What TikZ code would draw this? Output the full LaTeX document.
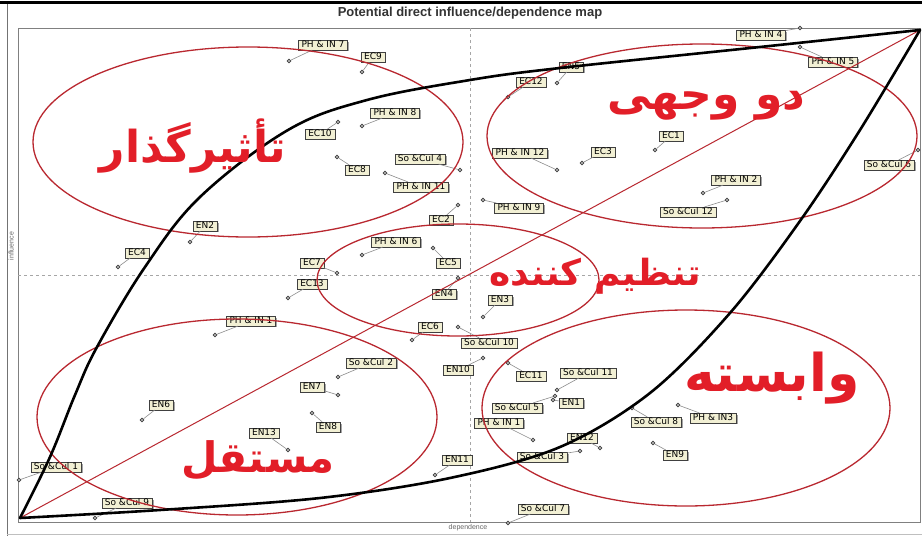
\documentclass[tikz,border=0pt]{standalone}
\usepackage{fontspec}
\setmainfont{Liberation Sans}
\newfontfamily\etikett{DejaVu Sans}
\newfontfamily\arabicfont[Script=Arabic]{DejaVu Sans}
\TeXXeTstate=1
\usetikzlibrary{shadows}
\definecolor{zonenrot}{RGB}{185,40,48}
\definecolor{textrot}{RGB}{226,30,40}
\definecolor{kasten}{RGB}{242,240,212}
\tikzset{merkmal/.style={draw=black!75, fill=kasten, thin, font=\etikett\fontsize{9}{10}\selectfont,
		inner xsep=3pt, inner ysep=1pt, text height=6.5pt, text depth=1.2pt,
		drop shadow={shadow xshift=1.5pt, shadow yshift=-1.5pt, fill=black!70}},
	punkt/.style={circle, draw=black!75, fill=white, line width=0.8pt, inner sep=0, minimum size=3.4pt},
	zeiger/.style={draw=black!45, line width=0.6pt},
	zone/.style={draw=zonenrot, line width=1.3pt},
	kurve/.style={draw=black, line width=2.6pt, line join=round, line cap=round},
	gruppe/.style={text=textrot, font=\arabicfont\bfseries\fontsize{#1}{#1}\selectfont, inner sep=0},
	achse/.style={text=black!60, font=\fontsize{7}{8}\selectfont, inner sep=1pt} }

\begin{document}
\begin{tikzpicture}[x=1pt, y=-1pt]
	\useasboundingbox (0,0) rectangle (922,536);
	\fill [white] (0,0) rectangle (922,536);

	% rahmen und achsen
	\draw [line width=3pt] (0,2) -- (922,2);
	\draw [black!55, thin] (7,4) -- (7,536);
	\draw [black!25, thin] (7,534) -- (922,534);
	\draw [black!50, line width=0.8pt] (18,28) rectangle (920,522);
	\draw [black!35, dashed, thin] (470,28) -- (470,522);
	\draw [black!35, dashed, thin] (18,275) -- (920,275);
	\node (titel) [text=black!80, font=\bfseries\fontsize{13}{14}\selectfont] at (470,13) {Potential direct influence/dependence map};
	\node (abh) [achse] at (468,528) {dependence};
	\node (einfl) [achse, rotate=90] at (11,246) {influence};

	% PH & IN
	\node (ph1a) [merkmal] at (251,321) {PH \& IN 1}; \node (ph1ap) [punkt] at (215,335) {}; \draw [zeiger] (ph1ap) -- (ph1a);
	\node (ph1b) [merkmal] at (499,423) {PH \& IN 1}; \node (ph1bp) [punkt] at (533,440) {}; \draw [zeiger] (ph1bp) -- (ph1b);
	\node (ph2) [merkmal] at (736,180) {PH \& IN 2}; \node (ph2p) [punkt] at (703,193) {}; \draw [zeiger] (ph2p) -- (ph2);
	\node (ph3) [merkmal] at (713,418) {PH \& IN3}; \node (ph3p) [punkt] at (678,405) {}; \draw [zeiger] (ph3p) -- (ph3);
	\node (ph4) [merkmal] at (761,35) {PH \& IN 4}; \node (ph4p) [punkt] at (800,28) {}; \draw [zeiger] (ph4p) -- (ph4);
	\node (ph5) [merkmal] at (833,62) {PH \& IN 5}; \node (ph5p) [punkt] at (800,47) {}; \draw [zeiger] (ph5p) -- (ph5);
	\node (ph6) [merkmal] at (396,242) {PH \& IN 6}; \node (ph6p) [punkt] at (362,255) {}; \draw [zeiger] (ph6p) -- (ph6);
	\node (ph7) [merkmal] at (323,45) {PH \& IN 7}; \node (ph7p) [punkt] at (289,61) {}; \draw [zeiger] (ph7p) -- (ph7);
	\node (ph8) [merkmal] at (395,113) {PH \& IN 8}; \node (ph8p) [punkt] at (362,126) {}; \draw [zeiger] (ph8p) -- (ph8);
	\node (ph9) [merkmal] at (519,208) {PH \& IN 9}; \node (ph9p) [punkt] at (483,200) {}; \draw [zeiger] (ph9p) -- (ph9);
	\node (ph11) [merkmal] at (421,187) {PH \& IN 11}; \node (ph11p) [punkt] at (385,173) {}; \draw [zeiger] (ph11p) -- (ph11);
	\node (ph12) [merkmal] at (520,153) {PH \& IN 12}; \node (ph12p) [punkt] at (557,170) {}; \draw [zeiger] (ph12p) -- (ph12);

	% EC
	\node (ec1) [merkmal] at (671,136) {EC1}; \node (ec1p) [punkt] at (655,150) {}; \draw [zeiger] (ec1p) -- (ec1);
	\node (ec2) [merkmal] at (441,220) {EC2}; \node (ec2p) [punkt] at (458,205) {}; \draw [zeiger] (ec2p) -- (ec2);
	\node (ec3) [merkmal] at (603,152) {EC3}; \node (ec3p) [punkt] at (582,163) {}; \draw [zeiger] (ec3p) -- (ec3);
	\node (ec4) [merkmal] at (137,253) {EC4}; \node (ec4p) [punkt] at (118,267) {}; \draw [zeiger] (ec4p) -- (ec4);
	\node (ec5) [merkmal] at (448,263) {EC5}; \node (ec5p) [punkt] at (433,248) {}; \draw [zeiger] (ec5p) -- (ec5);
	\node (ec6) [merkmal] at (430,327) {EC6}; \node (ec6p) [punkt] at (412,340) {}; \draw [zeiger] (ec6p) -- (ec6);
	\node (ec7) [merkmal] at (312,263) {EC7}; \node (ec7p) [punkt] at (337,273) {}; \draw [zeiger] (ec7p) -- (ec7);
	\node (ec8) [merkmal] at (357,170) {EC8}; \node (ec8p) [punkt] at (337,157) {}; \draw [zeiger] (ec8p) -- (ec8);
	\node (ec9) [merkmal] at (373,57) {EC9}; \node (ec9p) [punkt] at (362,72) {}; \draw [zeiger] (ec9p) -- (ec9);
	\node (ec10) [merkmal] at (320,134) {EC10}; \node (ec10p) [punkt] at (338,122) {}; \draw [zeiger] (ec10p) -- (ec10);
	\node (ec11) [merkmal] at (531,376) {EC11}; \node (ec11p) [punkt] at (508,363) {}; \draw [zeiger] (ec11p) -- (ec11);
	\node (ec12) [merkmal] at (531,82) {EC12}; \node (ec12p) [punkt] at (508,97) {}; \draw [zeiger] (ec12p) -- (ec12);
	\node (ec13) [merkmal] at (312,284) {EC13}; \node (ec13p) [punkt] at (288,298) {}; \draw [zeiger] (ec13p) -- (ec13);

	% EN
	\node (en1) [merkmal] at (571,403) {EN1}; \node (en1p) [punkt] at (553,400) {}; \draw [zeiger] (en1p) -- (en1);
	\node (en2) [merkmal] at (205,226) {EN2}; \node (en2p) [punkt] at (190,242) {}; \draw [zeiger] (en2p) -- (en2);
	\node (en3) [merkmal] at (500,300) {EN3}; \node (en3p) [punkt] at (483,317) {}; \draw [zeiger] (en3p) -- (en3);
	\node (en4) [merkmal] at (444,294) {EN4}; \node (en4p) [punkt] at (458,278) {}; \draw [zeiger] (en4p) -- (en4);
	\node (en5) [merkmal] at (571,67) {EN5}; \node (en5p) [punkt] at (557,83) {}; \draw [zeiger] (en5p) -- (en5);
	\node (en6) [merkmal] at (161,405) {EN6}; \node (en6p) [punkt] at (142,420) {}; \draw [zeiger] (en6p) -- (en6);
	\node (en7) [merkmal] at (312,387) {EN7}; \node (en7p) [punkt] at (338,395) {}; \draw [zeiger] (en7p) -- (en7);
	\node (en8) [merkmal] at (328,427) {EN8}; \node (en8p) [punkt] at (312,413) {}; \draw [zeiger] (en8p) -- (en8);
	\node (en9) [merkmal] at (675,455) {EN9}; \node (en9p) [punkt] at (653,443) {}; \draw [zeiger] (en9p) -- (en9);
	\node (en10) [merkmal] at (458,370) {EN10}; \node (en10p) [punkt] at (483,358) {}; \draw [zeiger] (en10p) -- (en10);
	\node (en11) [merkmal] at (457,460) {EN11}; \node (en11p) [punkt] at (435,475) {}; \draw [zeiger] (en11p) -- (en11);
	\node (en12) [merkmal] at (582,438) {EN12}; \node (en12p) [punkt] at (600,448) {}; \draw [zeiger] (en12p) -- (en12);
	\node (en13) [merkmal] at (264,433) {EN13}; \node (en13p) [punkt] at (288,450) {}; \draw [zeiger] (en13p) -- (en13);

	% So & Cul
	\node (sc1) [merkmal] at (56,467) {So \&Cul 1}; \node (sc1p) [punkt] at (19,480) {}; \draw [zeiger] (sc1p) -- (sc1);
	\node (sc2) [merkmal] at (371,363) {So \&Cul 2}; \node (sc2p) [punkt] at (338,377) {}; \draw [zeiger] (sc2p) -- (sc2);
	\node (sc3) [merkmal] at (542,457) {So \&Cul 3}; \node (sc3p) [punkt] at (580,451) {}; \draw [zeiger] (sc3p) -- (sc3);
	\node (sc4) [merkmal] at (420,159) {So \&Cul 4}; \node (sc4p) [punkt] at (460,170) {}; \draw [zeiger] (sc4p) -- (sc4);
	\node (sc5) [merkmal] at (517,408) {So \&Cul 5}; \node (sc5p) [punkt] at (555,396) {}; \draw [zeiger] (sc5p) -- (sc5);
	\node (sc6) [merkmal] at (889,165) {So \&Cul 6}; \node (sc6p) [punkt] at (918,150) {}; \draw [zeiger] (sc6p) -- (sc6);
	\node (sc7) [merkmal] at (543,509) {So \&Cul 7}; \node (sc7p) [punkt] at (508,523) {}; \draw [zeiger] (sc7p) -- (sc7);
	\node (sc8) [merkmal] at (656,422) {So \&Cul 8}; \node (sc8p) [punkt] at (632,408) {}; \draw [zeiger] (sc8p) -- (sc8);
	\node (sc9) [merkmal] at (127,503) {So \&Cul 9}; \node (sc9p) [punkt] at (95,518) {}; \draw [zeiger] (sc9p) -- (sc9);
	\node (sc10) [merkmal] at (489,343) {So \&Cul 10}; \node (sc10p) [punkt] at (458,327) {}; \draw [zeiger] (sc10p) -- (sc10);
	\node (sc11) [merkmal] at (588,373) {So \&Cul 11}; \node (sc11p) [punkt] at (557,390) {}; \draw [zeiger] (sc11p) -- (sc11);
	\node (sc12) [merkmal] at (688,212) {So \&Cul 12}; \node (sc12p) [punkt] at (727,200) {}; \draw [zeiger] (sc12p) -- (sc12);

	% zonen
	\draw [zone] (248,142) ellipse [x radius=215, y radius=95];
	\draw [zone] (702,136) ellipse [x radius=215, y radius=92];
	\draw [zone] (458,280) ellipse [x radius=141, y radius=56];
	\draw [zone] (237,417) ellipse [x radius=200, y radius=98];
	\draw [zone] (686,408) ellipse [x radius=204, y radius=98];

	\coordinate (ursprung) at (20,518);
	\coordinate (ecke) at (920,30);
	\draw [zonenrot, line width=1pt] (ursprung) -- (ecke);
	\draw [kurve] plot [smooth, tension=0.6] coordinates {(ursprung) (50,457) (75,395) (97,347) (145,267) (200,197) (288,130) (367,100) (470,80) (560,68) (760,47) (ecke)};
	\draw [kurve] plot [smooth, tension=0.55] coordinates {(ursprung) (160,510) (320,498) (450,478) (560,447) (650,393) (730,313) (800,221) (860,130) (ecke)};

	\node (tasir) [gruppe=44] at (193,146) {\beginR تأثیرگذار\endR};
	\node (dovajhi) [gruppe=44] at (706,106) {\beginR دو وجهی\endR};
	\node (tanzim) [gruppe=36] at (595,276) {\beginR تنظیم کننده\endR};
	\node (vabaste) [gruppe=52] at (772,378) {\beginR وابسته\endR};
	\node (mostaghel) [gruppe=42] at (258,460) {\beginR مستقل\endR};
\end{tikzpicture}
\end{document}
